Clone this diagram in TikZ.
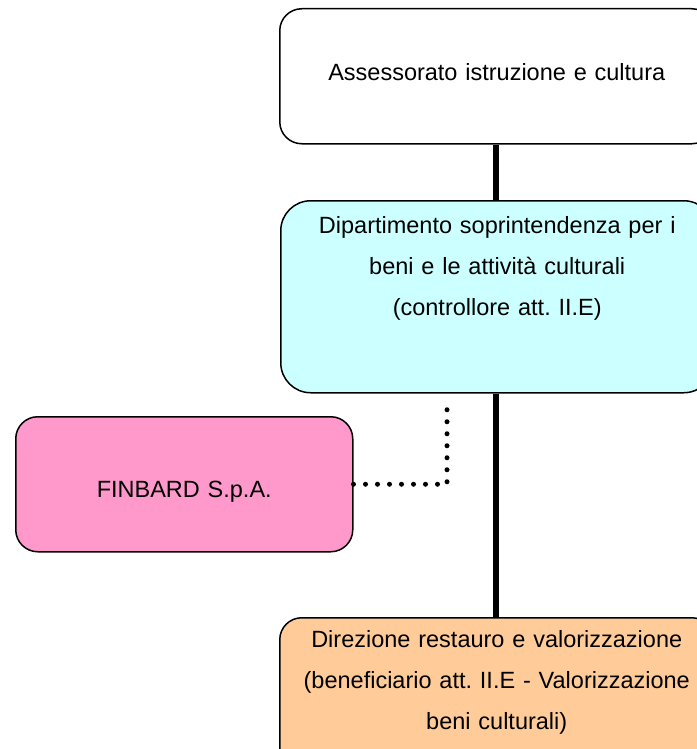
\documentclass[tikz,border=0pt]{standalone}
\usepackage{fontspec}
\setmainfont{Liberation Sans}
\usepackage{xcolor}
\usepackage{tikz}
\usetikzlibrary{positioning, calc}

\definecolor{dipcyan}{HTML}{CCFFFF}
\definecolor{finpink}{HTML}{FF99CC}
\definecolor{dirorange}{HTML}{FFCC99}
\frenchspacing

\begin{document}
\begin{tikzpicture}[x=1pt, y=-1pt,
		box/.style={draw, line width=1.5pt, rounded corners=22pt, align=center, anchor=north west,
			inner xsep=3pt, inner ysep=0pt, font=\fontsize{23.5}{41}\selectfont},
		spine/.style={line width=5.5pt},
		dots/.style={line width=5pt, line cap=round, dash pattern=on 0pt off 12pt}]
				\useasboundingbox (0,0) rectangle (696,749);
				
				\node [box, text width=428pt, text height=72pt, text depth=63pt] (assess) at (279,8) {Assessorato istruzione e cultura};
				\node [box, fill=dipcyan, rounded corners=30pt, text width=427pt, text height=33pt, text depth=159pt] (dip) at (280,200)
					{Dipartimento soprintendenza per i\\ beni e le attivit\`a culturali\\ (controllore att. II.E)};
				\node [box, fill=finpink, text width=331pt, text height=81pt, text depth=54pt] (finbard) at (15,416) {FINBARD S.p.A.};
				\node [box, fill=dirorange, text width=428pt, text height=30pt, text depth=128pt] (dir) at (279,617)
					{Direzione restauro e valorizzazione\\ (beneficiario att. II.E - Valorizzazione\\ beni culturali)};
				
				% linee gerarchiche
				\coordinate (spine) at (496,0);
				\draw [spine] (assess.south -| spine) -- (dip.north -| spine);
				\draw [spine] (dip.south -| spine) -- (dir.north -| spine);
				
				% controllo FINBARD
				\coordinate (tap) at (447,398.5);
				\draw [dots] (finbard.east) -| (tap);
\end{tikzpicture}
\end{document}
